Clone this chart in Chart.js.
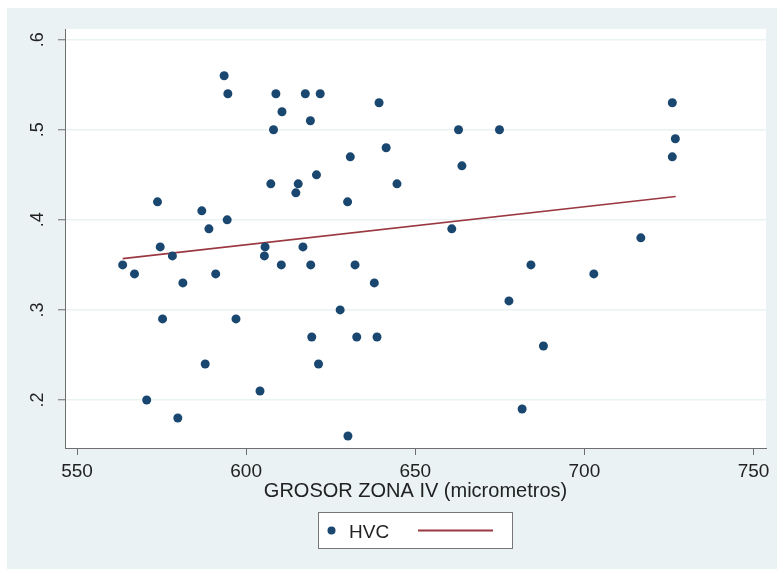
<!DOCTYPE html>
<html lang="es">
<head>
<meta charset="utf-8"/>
<title>HVC vs GROSOR ZONA IV</title>
<style>
    body, html {
      margin: 0;
      padding: 0;
      background: #fff;
    }
    canvas {
      display: block;
    }
  </style>
</head>
<body>
<canvas id="chart" width="777" height="569"></canvas>
<script src="https://cdn.jsdelivr.net/npm/chart.js"></script>
<script>
    // valores
    const hvcX = [563.5, 567, 570.6, 573.8, 574.6, 575.3, 578.2, 579.8, 581.3, 586.9,
      587.9, 589, 591, 593.5, 594.4, 594.6, 597, 604.1, 605.4, 605.6,
      607.3, 608.1, 608.8, 610.4, 610.6, 614.7, 615.4, 616.8, 617.5, 619,
      619.1, 619.4, 620.8, 621.4, 621.9, 627.8, 630, 630.1, 630.8, 632.2,
      632.7, 637.9, 638.7, 639.3, 641.4, 644.6, 660.8, 662.8, 663.8, 674.9,
      677.7, 681.6, 684.2, 687.9, 702.8, 716.7, 726, 726, 726.9];
    const hvcY = [0.35, 0.34, 0.20, 0.42, 0.37, 0.29, 0.36, 0.18, 0.33, 0.41,
      0.24, 0.39, 0.34, 0.56, 0.40, 0.54, 0.29, 0.21, 0.36, 0.37,
      0.44, 0.50, 0.54, 0.35, 0.52, 0.43, 0.44, 0.37, 0.54, 0.51,
      0.35, 0.27, 0.45, 0.24, 0.54, 0.30, 0.42, 0.16, 0.47, 0.35,
      0.27, 0.33, 0.27, 0.53, 0.48, 0.44, 0.39, 0.50, 0.46, 0.50,
      0.31, 0.19, 0.35, 0.26, 0.34, 0.38, 0.53, 0.47, 0.49];

    // recta ajustada (extremos)
    const fitX = [563.5, 727];
    const fitY = [0.357, 0.426];

    const xTicks = [550, 600, 650, 700, 750];
    const yTicks = [0.2, 0.3, 0.4, 0.5, 0.6];
    const xTitle = 'GROSOR ZONA IV (micrometros)';
    const legendLabel = 'HVC';

    const FONT = '"Liberation Sans", Arial, sans-serif';
    const navy = '#1a476f';
    const maroon = '#9a3841';
    const panel = '#eaf2f3';
    const axisGray = '#6e6e6e';

    const bgPlugin = {
      id: 'bg',
      beforeDraw(chart) {
        const ctx = chart.ctx;
        const a = chart.chartArea;
        ctx.save();
        ctx.fillStyle = '#fff';
        ctx.fillRect(0, 0, chart.width, chart.height);
        ctx.fillStyle = panel;
        ctx.fillRect(7, 8, chart.width - 7, chart.height - 8);
        ctx.fillStyle = '#fff';
        ctx.fillRect(a.left, a.top, a.right - a.left, a.bottom - a.top);
        ctx.restore();
      },
      afterDraw(chart) {
        const ctx = chart.ctx;
        const a = chart.chartArea;
        const cx = (a.left + a.right) / 2;
        ctx.save();
        // titulo eje x
        ctx.fillStyle = '#222';
        ctx.font = '20px ' + FONT;
        ctx.textAlign = 'center';
        ctx.textBaseline = 'alphabetic';
        ctx.fillText(xTitle, cx, 497);

        // leyenda
        const bx = 318.5, by = 512.5, bw = 194, bh = 36;
        ctx.fillStyle = '#fff';
        ctx.fillRect(bx, by, bw, bh);
        ctx.strokeStyle = '#777';
        ctx.lineWidth = 1;
        ctx.strokeRect(bx, by, bw, bh);

        ctx.fillStyle = navy;
        ctx.beginPath();
        ctx.arc(331.5, 530.5, 4, 0, Math.PI * 2);
        ctx.fill();

        ctx.fillStyle = '#222';
        ctx.font = '19px ' + FONT;
        ctx.textAlign = 'left';
        ctx.fillText(legendLabel, 349, 537.5);

        ctx.strokeStyle = maroon;
        ctx.lineWidth = 2;
        ctx.beginPath();
        ctx.moveTo(418, 530.5);
        ctx.lineTo(493, 530.5);
        ctx.stroke();
        ctx.restore();
      }
    };

    const ctx = document.getElementById('chart').getContext('2d');
    new Chart(ctx, {
      type: 'scatter',
      data: {
        datasets: [{
          label: legendLabel,
          data: hvcX.map((x, i) => ({x: x, y: hvcY[i]})),
          backgroundColor: navy,
          borderWidth: 0,
          pointRadius: 4.5,
          pointHoverRadius: 4.5
        }, {
          type: 'line',
          label: '',
          data: fitX.map((x, i) => ({x: x, y: fitY[i]})),
          borderColor: maroon,
          borderWidth: 1.6,
          pointRadius: 0,
          fill: false,
          tension: 0
        }]
      },
      options: {
        responsive: false,
        animation: false,
        layout: {
          padding: {top: 29, right: 11, left: 0, bottom: 0}
        },
        plugins: {
          legend: {display: false},
          tooltip: {enabled: false}
        },
        scales: {
          x: {
            type: 'linear',
            min: 546.45,
            max: 753.7,
            afterBuildTicks: s => { s.ticks = xTicks.map(v => ({value: v})); },
            afterFit: s => { s.height = 121; },
            ticks: {
              autoSkip: false,
              maxRotation: 0,
              padding: 5,
              color: '#222',
              font: {family: FONT, size: 19}
            },
            grid: {
              drawOnChartArea: false,
              tickLength: 7,
              tickColor: axisGray,
              tickWidth: 1
            },
            border: {color: axisGray, width: 1}
          },
          y: {
            type: 'linear',
            min: 0.1467,
            max: 0.6119,
            afterBuildTicks: s => { s.ticks = yTicks.map(v => ({value: v})); },
            afterFit: s => { s.width = 65; },
            ticks: {
              autoSkip: false,
              minRotation: 90,
              maxRotation: 90,
              crossAlign: 'center',
              padding: 12,
              color: '#222',
              font: {family: FONT, size: 18},
              callback: v => String(v).replace(/^0/, '')
            },
            grid: {
              color: panel,
              lineWidth: 1.5,
              tickLength: 7,
              tickColor: axisGray,
              tickWidth: 1
            },
            border: {color: axisGray, width: 1}
          }
        }
      },
      plugins: [bgPlugin]
    });
  </script>
</body>
</html>
